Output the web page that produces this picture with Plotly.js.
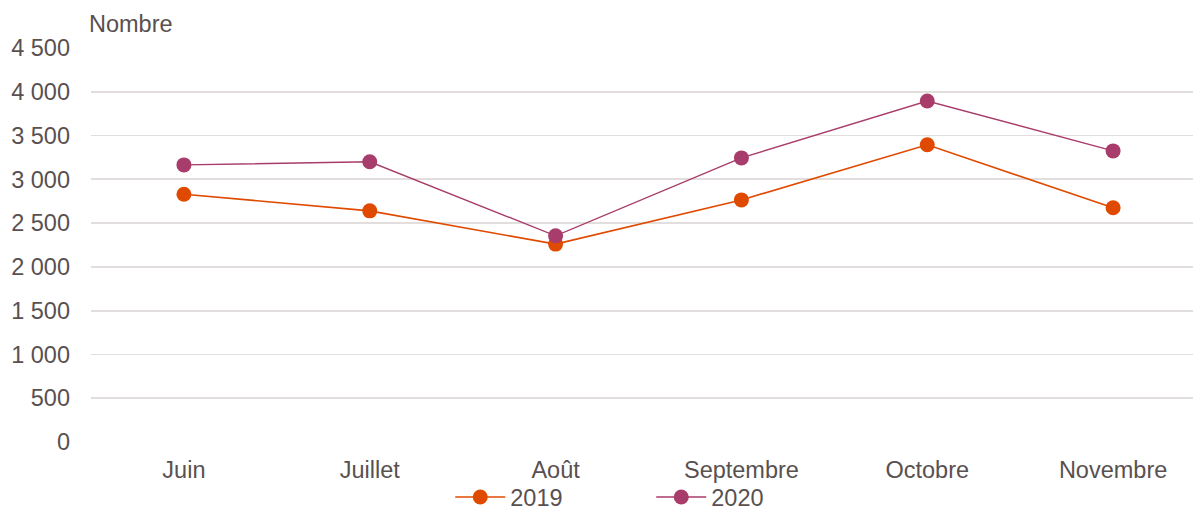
<!DOCTYPE html>
<html>
<head>
<meta charset="utf-8">
<script src="https://cdn.plot.ly/plotly-3.0.1.min.js"></script>
<style>html,body{margin:0;padding:0;background:#fff;}#chart{width:1193px;height:510px;}</style>
</head>
<body>
<div id="chart"></div>
<script>
const months = ["Juin", "Juillet", "Août", "Septembre", "Octobre", "Novembre"];
const values2019 = [2830, 2640, 2260, 2765, 3395, 2675];
const values2020 = [3165, 3200, 2355, 3245, 3895, 3325];
const yTicks = [0, 500, 1000, 1500, 2000, 2500, 3000, 3500, 4000, 4500];
const yTickLabels = ["0", "500", "1 000", "1 500", "2 000", "2 500", "3 000", "3 500", "4 000", "4 500"];

const txt = "#595050";
const fs = 23.5;
const traces = [
  {x: months, y: values2019, name: "2019", type: "scatter", mode: "lines+markers",
   line: {color: "#E04A00", width: 1.6}, marker: {color: "#E04A00", size: 15}},
  {x: months, y: values2020, name: "2020", type: "scatter", mode: "lines+markers",
   line: {color: "#A83C6A", width: 1.4}, marker: {color: "#A83C6A", size: 15}}
];
const layout = {
  width: 1193, height: 510,
  margin: {l: 91, r: 0, t: 48, b: 68, autoexpand: false},
  paper_bgcolor: "#fff", plot_bgcolor: "#fff",
  font: {family: "Liberation Sans, Arial, sans-serif", size: fs, color: txt},
  xaxis: {type: "category", range: [-0.5, 5.43], showgrid: false, zeroline: false,
          showline: false, ticks: "", ticklabelstandoff: 11, tickfont: {size: fs, color: txt}},
  yaxis: {range: [0, 4500], tickvals: yTicks, ticktext: yTickLabels, showgrid: true,
          gridcolor: "#E3DEDE", gridwidth: 1.8, zeroline: false, showline: false, ticks: "",
          ticklabelstandoff: 20, tickfont: {size: fs, color: txt}},
  showlegend: true,
  legend: {orientation: "h", x: 0.326, xanchor: "left", y: -0.14, yanchor: "middle",
           bgcolor: "rgba(0,0,0,0)",
           font: {size: fs, color: txt}, itemwidth: 50, entrywidth: 136, entrywidthmode: "pixels",
           traceorder: "normal"},
  annotations: [{text: "Nombre", xref: "paper", yref: "paper", x: -0.004, y: 1.061,
                 xanchor: "left", yanchor: "middle", showarrow: false,
                 font: {size: fs, color: txt}}]
};
Plotly.newPlot("chart", traces, layout, {displayModeBar: false, staticPlot: true});
</script>
</body>
</html>
